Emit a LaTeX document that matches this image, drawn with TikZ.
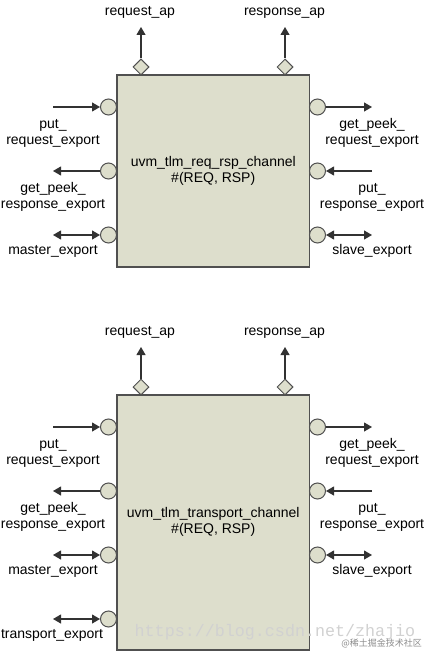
\documentclass[tikz,border=0pt]{standalone}
\usepackage{fontspec}
\setmainfont{Liberation Sans}
\newfontfamily\wmfont{Liberation Mono}
\newfontfamily\cjkfont{Noto Sans CJK SC}
\usetikzlibrary{arrows.meta,shapes.geometric}
\definecolor{chfill}{RGB}{221,222,204}
\definecolor{chline}{RGB}{80,80,80}
\definecolor{arline}{RGB}{50,50,50}
\tikzset{
  chan/.style={draw=chline, line width=1.5pt, fill=chfill, inner sep=0pt, align=center, font=\fontsize{14}{16}\selectfont},
  port/.style={circle, draw=chline, line width=1pt, fill=chfill, minimum size=16pt, inner sep=0pt},
  apd/.style={diamond, draw=chline, line width=1pt, fill=chfill, minimum width=16pt, minimum height=16pt, inner sep=0pt, aspect=1},
  conn/.style={draw=arline, line width=1.1pt},
  onetip/.style={conn, -{Triangle[length=8pt,width=9pt]}},
  twotip/.style={conn, {Triangle[length=8pt,width=9pt]}-{Triangle[length=8pt,width=9pt]}},
  lbl/.style={inner sep=0pt, anchor=north, align=center, font=\fontsize{14}{16}\selectfont},
}
\begin{document}
\begin{tikzpicture}[x=1pt,y=-1pt]
\useasboundingbox (0,0) rectangle (426,652);
% ---------- top channel ----------
\node[chan, minimum width=192.5pt, minimum height=192pt] (box1) at (213.25,171) {\strut uvm\_tlm\_req\_rsp\_channel\\\#(REQ, RSP)\strut};
\node[apd] (ra1) at (141,67) {};
\node[apd] (sa1) at (285,67) {};
\coordinate (ra1e) at (141,27);
\coordinate (sa1e) at (285,27);
\draw[onetip] (ra1) -- (ra1e);
\draw[onetip] (sa1) -- (sa1e);
\node[lbl] (ra1l) at (140,3.8) {\strut request\_ap};
\node[lbl] (sa1l) at (284.5,3.8) {\strut response\_ap};
\node[port] (pl1a) at (108.5,107) {};
\node[port] (pl1b) at (108.5,171) {};
\node[port] (pl1c) at (108.5,235) {};
\node[port] (pr1a) at (317.5,107) {};
\node[port] (pr1b) at (317.5,171) {};
\node[port] (pr1c) at (317.5,235) {};
\coordinate (el1a) at (53,107);
\coordinate (el1b) at (53,171);
\coordinate (el1c) at (53,235);
\coordinate (er1a) at (372,107);
\coordinate (er1b) at (372,171);
\coordinate (er1c) at (372,235);
\draw[onetip] (el1a) -- (pl1a);
\draw[onetip] (pl1b) -- (el1b);
\draw[twotip] (el1c) -- (pl1c);
\draw[onetip] (pr1a) -- (er1a);
\draw[onetip] (er1b) -- (pr1b);
\draw[twotip] (pr1c) -- (er1c);
\node[lbl] (tl1a) at (53,116.8) {\strut put\_\\request\_export};
\node[lbl] (tl1b) at (53,180.8) {\strut get\_peek\_\\response\_export};
\node[lbl] (tl1c) at (53,242.8) {\strut master\_export};
\node[lbl] (tr1a) at (372,116.8) {\strut get\_peek\_\\request\_export};
\node[lbl] (tr1b) at (372,180.8) {\strut put\_\\response\_export};
\node[lbl] (tr1c) at (372,242.8) {\strut slave\_export};
% ---------- bottom channel ----------
\node[chan, minimum width=192.5pt, minimum height=255pt] (box2) at (213.25,522.5) {\strut uvm\_tlm\_transport\_channel\\\#(REQ, RSP)\strut};
\node[apd] (ra2) at (141,387) {};
\node[apd] (sa2) at (285,387) {};
\coordinate (ra2e) at (141,347);
\coordinate (sa2e) at (285,347);
\draw[onetip] (ra2) -- (ra2e);
\draw[onetip] (sa2) -- (sa2e);
\node[lbl] (ra2l) at (140,323.8) {\strut request\_ap};
\node[lbl] (sa2l) at (284.5,323.8) {\strut response\_ap};
\node[port] (pl2a) at (108.5,427) {};
\node[port] (pl2b) at (108.5,491) {};
\node[port] (pl2c) at (108.5,555) {};
\node[port] (pl2d) at (108.5,619) {};
\node[port] (pr2a) at (317.5,427) {};
\node[port] (pr2b) at (317.5,491) {};
\node[port] (pr2c) at (317.5,555) {};
\coordinate (el2a) at (53,427);
\coordinate (el2b) at (53,491);
\coordinate (el2c) at (53,555);
\coordinate (el2d) at (53,619);
\coordinate (er2a) at (372,427);
\coordinate (er2b) at (372,491);
\coordinate (er2c) at (372,555);
\draw[onetip] (el2a) -- (pl2a);
\draw[onetip] (pl2b) -- (el2b);
\draw[twotip] (el2c) -- (pl2c);
\draw[twotip] (el2d) -- (pl2d);
\draw[onetip] (pr2a) -- (er2a);
\draw[onetip] (er2b) -- (pr2b);
\draw[twotip] (pr2c) -- (er2c);
\node[lbl] (tl2a) at (53,436.8) {\strut put\_\\request\_export};
\node[lbl] (tl2b) at (53,500.8) {\strut get\_peek\_\\response\_export};
\node[lbl] (tl2c) at (53,562.8) {\strut master\_export};
\node[lbl] (tl2d) at (52,626.8) {\strut transport\_export};
\node[lbl] (tr2a) at (372,436.8) {\strut get\_peek\_\\request\_export};
\node[lbl] (tr2b) at (372,500.8) {\strut put\_\\response\_export};
\node[lbl] (tr2c) at (372,562.8) {\strut slave\_export};
% ---------- watermark ----------
\node[inner sep=0pt, text=black!18, font=\wmfont\fontsize{16.7}{18}\selectfont] (wm1) at (275,632) {https://blog.csdn.net/zhajio};
\node[inner sep=0pt, anchor=east, text=black!45, font=\cjkfont\fontsize{9}{10}\selectfont] (wm2) at (422,643) {@稀土掘金技术社区};
\end{tikzpicture}
\end{document}
